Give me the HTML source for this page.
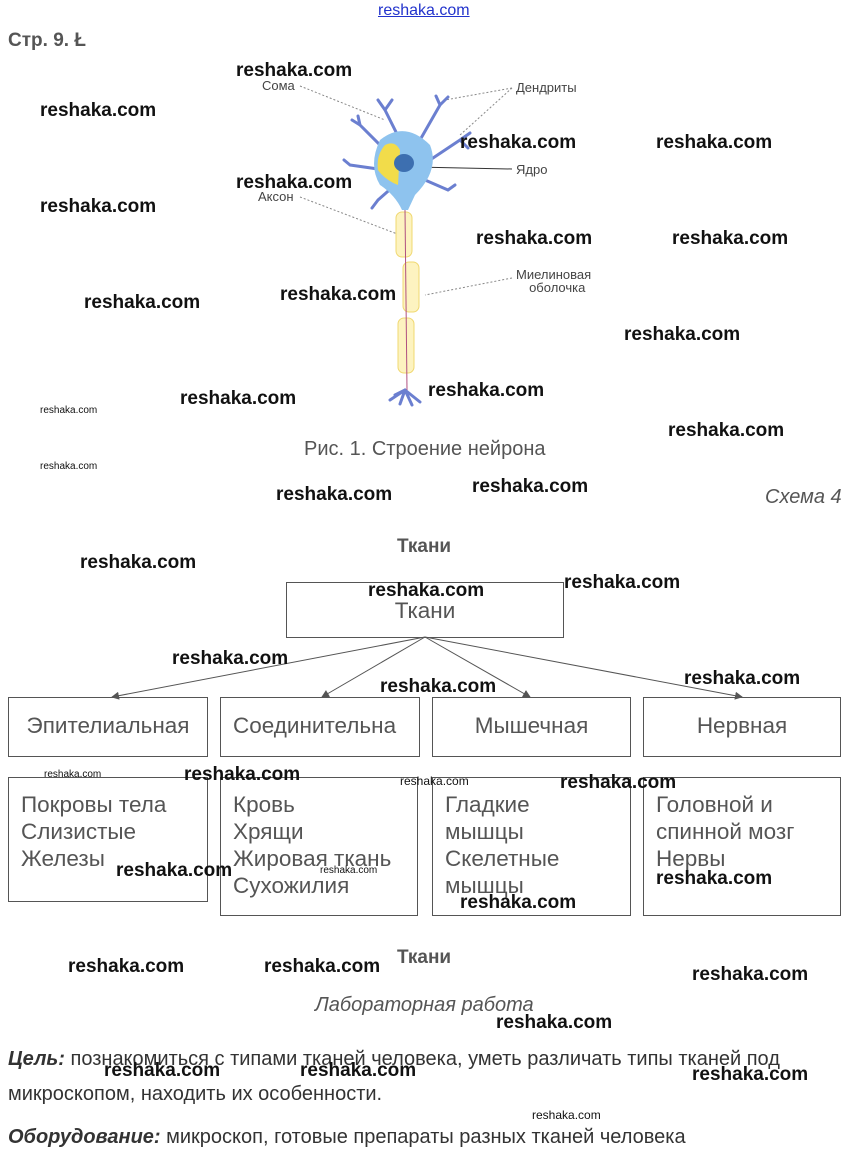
<!DOCTYPE html>
<html><head><meta charset="utf-8"><style>
body{margin:0;width:851px;height:1164px;background:#fff;position:relative;overflow:hidden;font-family:"Liberation Sans",sans-serif}
.a{position:absolute;white-space:nowrap}
.w{position:absolute;font:bold 19px "Liberation Sans",sans-serif;color:#111;line-height:20px;white-space:nowrap}
.s{position:absolute;font:10px "Liberation Sans",sans-serif;color:#111;white-space:nowrap}
.b{position:absolute;border:1px solid #555;box-sizing:border-box;color:#555;font-size:22.5px;line-height:27px}
.l{position:absolute;font-size:13px;color:#444;white-space:nowrap;line-height:13px}
</style></head><body>
<div class="a" style="left:378px;top:2px;font-size:16px;color:#2233cc;text-decoration:underline">reshaka.com</div>
<div class="a" style="left:8px;top:30px;font-size:19px;font-weight:bold;color:#555">Стр. 9. Ł</div>

<svg class="a" style="left:0;top:0" width="851" height="420">
<g stroke="#888" stroke-dasharray="2,2" fill="none" stroke-width="1">
<line x1="300" y1="86" x2="385" y2="120"/><line x1="512" y1="88" x2="445" y2="100"/><line x1="512" y1="88" x2="460" y2="135"/>
<line x1="300" y1="197" x2="400" y2="235"/><line x1="512" y1="278" x2="425" y2="295"/></g>
<line x1="415" y1="167" x2="512" y2="169" stroke="#333"/>
<g stroke="#6b7fd0" stroke-width="3" fill="none" stroke-linecap="round">
<path d="M405 150 L385 110 M385 110 L378 100 M385 110 L392 100"/>
<path d="M420 140 L440 105 M440 105 L448 97 M440 105 L436 96"/>
<path d="M430 160 L460 140 M460 140 L470 133 M460 140 L468 148"/>
<path d="M425 180 L448 190 M448 190 L455 185"/>
<path d="M390 155 L360 125 M360 125 L352 120 M360 125 L358 116"/>
<path d="M385 170 L350 165 M350 165 L344 160"/>
<path d="M395 185 L378 200 M378 200 L372 208"/>
<path d="M405 390 L390 400 M405 390 L420 402 M405 390 L400 404 M405 390 L412 405 M405 390 L395 395"/>
</g>
<path d="M380 140 Q405 120 430 145 Q440 170 415 195 L408 210 L402 210 Q395 195 380 185 Q368 165 380 140Z" fill="#8ec3ee"/>
<path d="M385 145 Q395 140 400 150 L398 185 Q385 180 378 170 Q376 155 385 145Z" fill="#f2dc4a"/>
<ellipse cx="404" cy="163" rx="10" ry="9" fill="#3d6fb0"/>
<g fill="#fdf3c0" stroke="#f0d870">
<rect x="396" y="212" width="16" height="45" rx="6"/>
<rect x="403" y="262" width="16" height="50" rx="6"/>
<rect x="398" y="318" width="16" height="55" rx="6"/></g>
<line x1="405" y1="210" x2="407" y2="390" stroke="#b05080" stroke-width="1"/>
</svg>
<div class="l" style="left:262px;top:79px">Сома</div>
<div class="l" style="left:516px;top:81px">Дендриты</div>
<div class="l" style="left:516px;top:163px">Ядро</div>
<div class="l" style="left:258px;top:190px">Аксон</div>
<div class="l" style="left:516px;top:268px;text-align:center">Миелиновая<br>&nbsp;&nbsp;оболочка</div>

<div class="a" style="left:304px;top:438px;font-size:20px;color:#555">Рис. 1. Строение нейрона</div>
<div class="a" style="left:765px;top:486px;font-size:20px;color:#555;font-style:italic">Схема 4</div>
<div class="a" style="left:397px;top:536px;font-size:19px;font-weight:bold;color:#555">Ткани</div>

<svg class="a" style="left:0;top:0" width="851" height="1164">
<defs><marker id="m" markerWidth="8" markerHeight="8" refX="7" refY="4" orient="auto"><path d="M0 0 L8 4 L0 8Z" fill="#555"/></marker></defs>
<g stroke="#555" stroke-width="1" marker-end="url(#m)">
<line x1="425" y1="637" x2="112" y2="697"/><line x1="425" y1="637" x2="322" y2="697"/>
<line x1="425" y1="637" x2="530" y2="697"/><line x1="425" y1="637" x2="742" y2="697"/></g>
</svg>
<div class="b" style="left:286px;top:582px;width:278px;height:56px;text-align:center;padding-top:14px">Ткани</div>
<div class="b" style="left:8px;top:697px;width:200px;height:60px;text-align:center;padding-top:14px">Эпителиальная</div>
<div class="b" style="left:220px;top:697px;width:200px;height:60px;padding:14px 0 0 12px">Соединительна</div>
<div class="b" style="left:432px;top:697px;width:199px;height:60px;text-align:center;padding-top:14px">Мышечная</div>
<div class="b" style="left:643px;top:697px;width:198px;height:60px;text-align:center;padding-top:14px">Нервная</div>
<div class="b" style="left:8px;top:777px;width:200px;height:125px;padding:13px 0 0 12px">Покровы тела<br>Слизистые<br>Железы</div>
<div class="b" style="left:220px;top:777px;width:198px;height:139px;padding:13px 0 0 12px">Кровь<br>Хрящи<br>Жировая ткань<br>Сухожилия</div>
<div class="b" style="left:432px;top:777px;width:199px;height:139px;padding:13px 0 0 12px">Гладкие<br>мышцы<br>Скелетные<br>мышцы</div>
<div class="b" style="left:643px;top:777px;width:198px;height:139px;padding:13px 0 0 12px">Головной и<br>спинной мозг<br>Нервы</div>

<div class="a" style="left:397px;top:947px;font-size:19px;font-weight:bold;color:#555">Ткани</div>
<div class="a" style="left:315px;top:994px;font-size:20px;color:#555;font-style:italic">Лабораторная работа</div>
<div class="a" style="left:8px;top:1042px;font-size:20px;color:#333;line-height:35px;white-space:normal;width:800px"><b><i>Цель:</i></b> познакомиться с типами тканей человека, уметь различать типы тканей под микроскопом, находить их особенности.</div>
<div class="a" style="left:8px;top:1126px;font-size:20px;color:#333"><b><i>Оборудование:</i></b> микроскоп, готовые препараты разных тканей человека</div>

<div class="w" style="left:236px;top:61px">reshaka.com</div>
<div class="w" style="left:40px;top:101px">reshaka.com</div>
<div class="w" style="left:460px;top:133px">reshaka.com</div>
<div class="w" style="left:656px;top:133px">reshaka.com</div>
<div class="w" style="left:236px;top:173px">reshaka.com</div>
<div class="w" style="left:40px;top:197px">reshaka.com</div>
<div class="w" style="left:476px;top:229px">reshaka.com</div>
<div class="w" style="left:672px;top:229px">reshaka.com</div>
<div class="w" style="left:84px;top:293px">reshaka.com</div>
<div class="w" style="left:280px;top:285px">reshaka.com</div>
<div class="w" style="left:624px;top:325px">reshaka.com</div>
<div class="w" style="left:428px;top:381px">reshaka.com</div>
<div class="w" style="left:180px;top:389px">reshaka.com</div>
<div class="w" style="left:668px;top:421px">reshaka.com</div>
<div class="w" style="left:276px;top:485px">reshaka.com</div>
<div class="w" style="left:472px;top:477px">reshaka.com</div>
<div class="w" style="left:80px;top:553px">reshaka.com</div>
<div class="w" style="left:368px;top:581px">reshaka.com</div>
<div class="w" style="left:564px;top:573px">reshaka.com</div>
<div class="w" style="left:172px;top:649px">reshaka.com</div>
<div class="w" style="left:380px;top:677px">reshaka.com</div>
<div class="w" style="left:684px;top:669px">reshaka.com</div>
<div class="w" style="left:184px;top:765px">reshaka.com</div>
<div class="w" style="left:560px;top:773px">reshaka.com</div>
<div class="w" style="left:116px;top:861px">reshaka.com</div>
<div class="w" style="left:656px;top:869px">reshaka.com</div>
<div class="w" style="left:460px;top:893px">reshaka.com</div>
<div class="w" style="left:68px;top:957px">reshaka.com</div>
<div class="w" style="left:264px;top:957px">reshaka.com</div>
<div class="w" style="left:692px;top:965px">reshaka.com</div>
<div class="w" style="left:496px;top:1013px">reshaka.com</div>
<div class="w" style="left:104px;top:1061px">reshaka.com</div>
<div class="w" style="left:300px;top:1061px">reshaka.com</div>
<div class="w" style="left:692px;top:1065px">reshaka.com</div>
<div class="s" style="left:40px;top:405px">reshaka.com</div>
<div class="s" style="left:40px;top:461px">reshaka.com</div>
<div class="s" style="left:44px;top:769px">reshaka.com</div>
<div class="s" style="left:400px;top:774px;font-size:12px">reshaka.com</div>
<div class="s" style="left:320px;top:865px">reshaka.com</div>
<div class="s" style="left:532px;top:1108px;font-size:12px">reshaka.com</div>
</body></html>
